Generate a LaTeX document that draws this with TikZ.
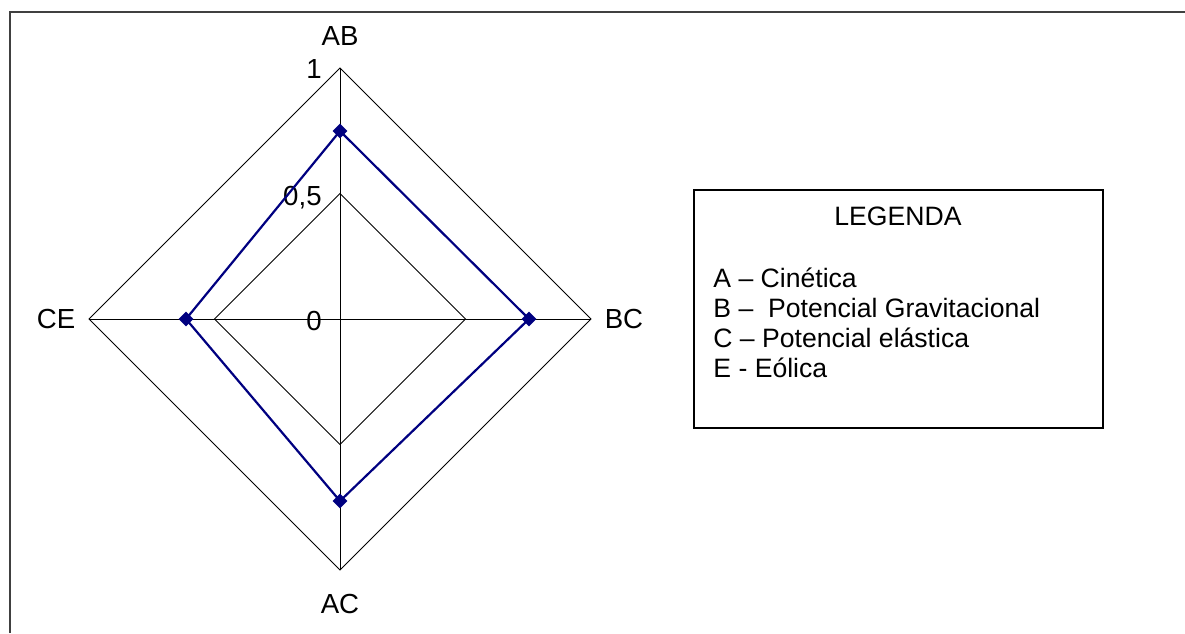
\documentclass[tikz,border=0pt]{standalone}
\usepackage{fontspec}
\setmainfont{Liberation Sans}
\usetikzlibrary{shapes.geometric}
\definecolor{navy}{RGB}{0,0,128}

\begin{document}
\begin{tikzpicture}[x=0.5pt, y=-0.5pt, font=\fontsize{13.3}{16}\selectfont,
    ringline/.style={draw=black, line width=0.5pt},
    axislbl/.style={anchor=base, inner sep=0, font=\fontsize{13.8}{16}\selectfont},
    ticklbl/.style={anchor=base east, inner sep=0, font=\fontsize{13.8}{16}\selectfont},
    datapt/.style={diamond, fill=navy, inner sep=0, minimum size=7.5pt},
    serie/.style={draw=navy, line width=1.1pt},
    legline/.style={anchor=base west, inner sep=0}]
      \useasboundingbox (0,0) rectangle (1185,633);
      \draw[line width=1pt, black!75] (9.5,633) |- (1185,12);

      \coordinate (O) at (340,319);
      \coordinate (AB1) at (340,68);
      \coordinate (BC1) at (591,319);
      \coordinate (AC1) at (340,570);
      \coordinate (CE1) at (89,319);
      \coordinate (AB2) at (340,193.5);
      \coordinate (BC2) at (465.5,319);
      \coordinate (AC2) at (340,444.5);
      \coordinate (CE2) at (214.5,319);

      \draw[ringline] (AB1) -- (BC1) -- (AC1) -- (CE1) -- cycle;
      \draw[ringline] (AB2) -- (BC2) -- (AC2) -- (CE2) -- cycle;
      \draw[ringline] (AB1) -- (AC1);
      \draw[ringline] (CE1) -- (BC1);

      \node[ticklbl] (t1) at (322,78) {1};
      \node[ticklbl] (t05) at (322,205) {0,5};
      \node[ticklbl] (t0) at (322,330) {0};

      \node[axislbl] (AB) at (340,45) {AB};
      \node[axislbl] (BC) at (624,328) {BC};
      \node[axislbl] (AC) at (340,613) {AC};
      \node[axislbl] (CE) at (56,328) {CE};

      \node[datapt] (pAB) at (340,131) {};
      \node[datapt] (pBC) at (529,319) {};
      \node[datapt] (pAC) at (340,501) {};
      \node[datapt] (pCE) at (186,319) {};
      \draw[serie] (pAB.center) -- (pBC.center) -- (pAC.center) -- (pCE.center) -- cycle;

      \node[draw, line width=0.8pt, minimum width=204.5pt, minimum height=119pt, inner sep=0] (legenda) at (898.5,309) {};
      \node[anchor=base, inner sep=0] (leghead) at (898,225) {LEGENDA};
      \node[legline] (legA) at (713,287) {A -- Cinética};
      \node[legline] (legB) at (713,317) {B --\ \ Potencial Gravitacional};
      \node[legline] (legC) at (713,347) {C -- Potencial elástica};
      \node[legline] (legE) at (713,377) {E - Eólica};
\end{tikzpicture}
\end{document}
